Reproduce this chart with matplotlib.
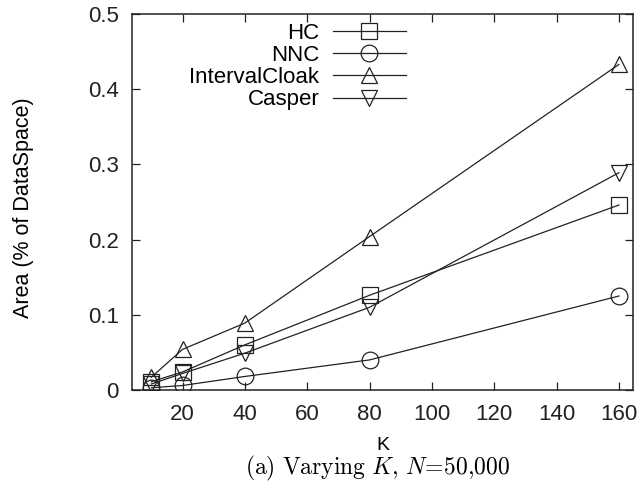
import matplotlib
matplotlib.use("Agg")
import matplotlib.pyplot as plt

plt.rcParams["font.family"] = ["Liberation Sans", "DejaVu Sans"]
plt.rcParams["mathtext.fontset"] = "cm"

k_values = [10, 20, 40, 80, 160]
hc = [0.011, 0.024, 0.060, 0.126, 0.246]
nnc = [0.003, 0.006, 0.018, 0.040, 0.125]
interval_cloak = [0.017, 0.054, 0.089, 0.204, 0.433]
casper = [0.008, 0.022, 0.049, 0.110, 0.289]

series_names = ["HC", "NNC", "IntervalCloak", "Casper"]
series_markers = ["s", "o", "^", "v"]
x_ticks = [20, 40, 60, 80, 100, 120, 140, 160]
y_ticks = [0, 0.1, 0.2, 0.3, 0.4, 0.5]
y_tick_labels = ["0", "0.1", "0.2", "0.3", "0.4", "0.5"]

fig = plt.figure(figsize=(6.4, 4.92), dpi=100)
ax = fig.add_axes([132 / 640, 1 - 390 / 492, (633 - 132) / 640, (390 - 14) / 492])

for vals, name, mk in zip([hc, nnc, interval_cloak, casper], series_names, series_markers):
    ax.plot(k_values, vals, color="#222222", linewidth=0.9, marker=mk,
            markersize=12, markerfacecolor="none", markeredgecolor="#222222",
            markeredgewidth=0.9, label=name)

ax.set_xlim(3.8, 164.5)
ax.set_ylim(0, 0.5)
ax.set_xticks(x_ticks)
ax.set_yticks(y_ticks)
ax.set_yticklabels(y_tick_labels)
ax.tick_params(direction="in", top=True, right=True, length=6, width=0.9,
               labelsize=16, colors="#222222")
ax.tick_params(axis="x", pad=10)
ax.tick_params(axis="y", pad=9.5)
for s in ax.spines.values():
    s.set_linewidth(1.1)
    s.set_color("#222222")

# axis titles placed where the reference has them
ax.set_xlabel("K", fontsize=14, va="baseline")
ax.xaxis.set_label_coords((383 - 132) / 501, (390 - 450.5) / 376)
ax.set_ylabel("Area (% of DataSpace)", fontsize=15.5)
ax.yaxis.set_label_coords((34 - 132) / 501, (390 - 208) / 376)

leg = ax.legend(loc="upper right", bbox_to_anchor=(406 / 640, 1 - 23 / 492),
                bbox_transform=fig.transFigure, frameon=False,
                markerfirst=False, handlelength=3.3, handletextpad=0.6,
                labelspacing=0.05, fontsize=16, borderaxespad=0, borderpad=0)
leg._legend_box.align = "right"

# figure caption, serif like the LaTeX original
fig.text(378 / 640, 1 - 474.5 / 492,
         r"$\mathrm{(a)\ Varying}\ K\mathrm{,}\ N\!=\!\mathrm{50{,}000}$",
         ha="center", va="baseline", fontsize=17)

fig.savefig("out.png", dpi=100)
